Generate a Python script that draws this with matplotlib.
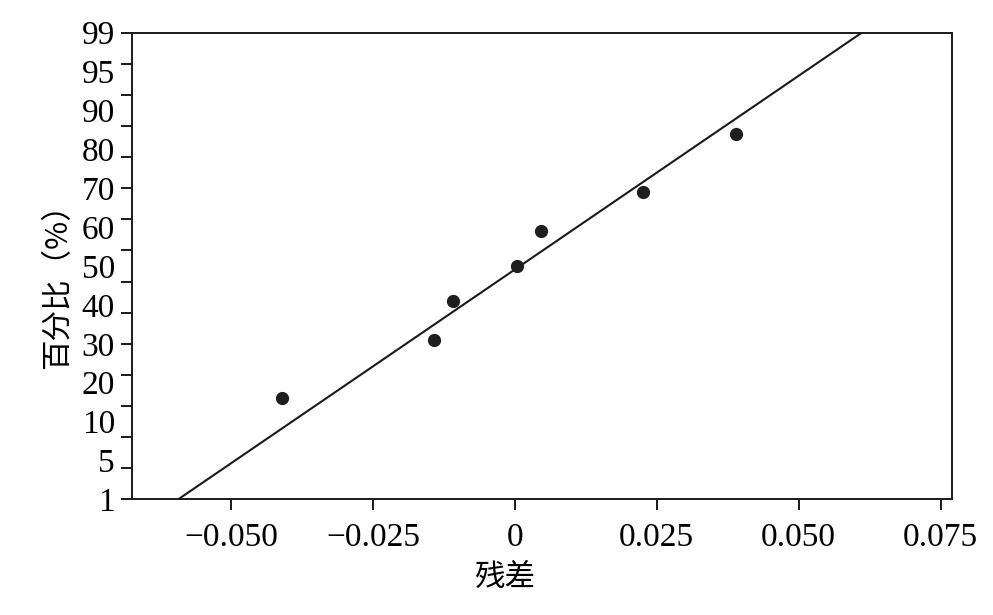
import numpy as np
import matplotlib.pyplot as plt
from statistics import NormalDist

plt.rcParams['font.family'] = ['Liberation Serif', 'Noto Sans CJK SC']
plt.rcParams['axes.unicode_minus'] = True

# 残差数据
residuals = [-0.0411, -0.0142, -0.0109, 0.0004, 0.0046, 0.0225, 0.0389]
# 拟合直线在 1% 和 99% 处的残差值
line_x = [-0.0593, 0.0611]
line_pct = [1, 99]

pct_labels = ['99', '95', '90', '80', '70', '60', '50', '40', '30', '20', '10', '5', '1']
x_ticks = [-0.050, -0.025, 0, 0.025, 0.050, 0.075]
x_ticklabels = ['\u22120.050', '\u22120.025', '0', '0.025', '0.050', '0.075']

nd = NormalDist()
n = len(residuals)
# Benard 中位秩
ranks = [(i + 1 - 0.3) / (n + 0.4) for i in range(n)]
z_pts = [nd.inv_cdf(p) for p in ranks]
z_line = [nd.inv_cdf(p / 100) for p in line_pct]
z_lo, z_hi = nd.inv_cdf(0.01), nd.inv_cdf(0.99)

fig = plt.figure(figsize=(9.93, 6.15), dpi=100)
ax = fig.add_axes([0.1326, 0.1881, 0.8261, 0.7587])

ax.plot(line_x, z_line, color='#1a1a1a', lw=1.5)
ax.plot(sorted(residuals), z_pts, 'o', color='#1e1e1e', ms=8.5)

ax.set_xlim(-0.0675, 0.0770)
ax.set_ylim(z_lo, z_hi)

ax.set_xticks(x_ticks)
ax.set_xticklabels(x_ticklabels, fontsize=24)
ax.tick_params(axis='x', length=8, width=1.4, pad=9, color='#1a1a1a')

# 刻度线等距，标签另行等距放置
ax.yaxis.remove_overlapping_locs = False
ax.set_yticks(np.linspace(z_lo, z_hi, 16))
ax.set_yticklabels([])
ax.tick_params(axis='y', which='major', length=8, width=1.4, color='#1a1a1a')
ax.set_yticks(np.linspace(z_hi, z_lo, len(pct_labels)), minor=True)
ax.set_yticklabels(pct_labels, minor=True, fontsize=24)
ax.tick_params(axis='y', which='minor', length=0, pad=12)

for s in ax.spines.values():
    s.set_linewidth(1.4)
    s.set_color('#1a1a1a')

ax.set_xlabel('残差', fontsize=22, family=['Noto Sans CJK SC'])
ax.xaxis.set_label_coords(0.455, -0.134)
ax.set_ylabel('百分比（%）', fontsize=22, family=['Noto Sans CJK SC'])
ax.yaxis.set_label_coords(-0.0716, 0.474)

fig.savefig('out.png', dpi=100)
